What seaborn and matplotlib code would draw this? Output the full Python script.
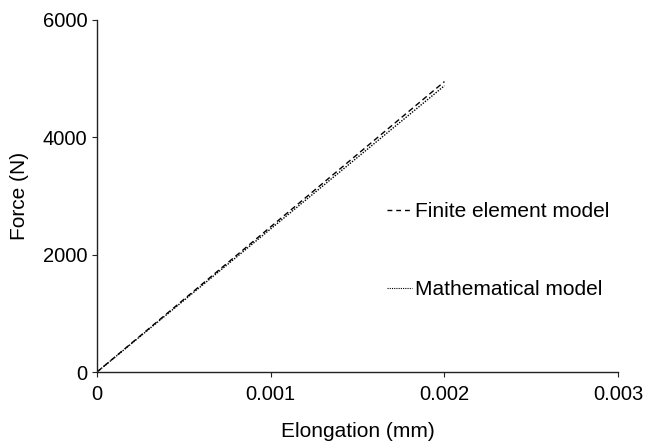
import matplotlib
matplotlib.use("Agg")
import matplotlib.pyplot as plt
import seaborn as sns
import pandas as pd

elong = [0.0, 0.002]
force_fe = [0.0, 4950.0]
force_math = [0.0, 4880.0]

sns.set_style("ticks")
plt.rcParams['font.family'] = ['Liberation Sans', 'DejaVu Sans']
plt.rcParams['text.color'] = 'black'
plt.rcParams['axes.labelcolor'] = 'black'
plt.rcParams['xtick.labelcolor'] = 'black'
plt.rcParams['ytick.labelcolor'] = 'black'

fig = plt.figure(figsize=(6.46, 4.44), dpi=100)
ax = fig.add_axes([0.150, 0.162, 0.807, 0.793])

df = pd.DataFrame({
    "Elongation": elong + elong,
    "Force": force_fe + force_math,
    "model": ["Finite element model"] * 2 + ["Mathematical model"] * 2,
})
sns.lineplot(data=df, x="Elongation", y="Force", style="model",
             dashes={"Finite element model": (4, 2.5), "Mathematical model": (1, 1)},
             color="black", linewidth=1.0, ax=ax, legend=False)

from matplotlib.lines import Line2D
handles = [Line2D([], [], color="black", lw=1.0, ls=(0, (3.5, 2.8))),
           Line2D([], [], color="black", lw=0.8, ls=(0, (1, 1)))]
ax.legend(handles, ["Finite element model", "Mathematical model"],
          loc="upper left", bbox_to_anchor=(0.52, 0.536), frameon=False,
          handlelength=1.2, handletextpad=0.15, labelspacing=2.85, fontsize=15)

ax.set_xlim(0, 0.003)
ax.set_ylim(0, 6000)
ax.set_xticks([0, 0.001, 0.002, 0.003])
ax.set_xticklabels(["0", "0.001", "0.002", "0.003"])
ax.set_yticks([0, 2000, 4000, 6000])
ax.set_yticklabels(["0", "2000", "4000", "6000"])
ax.set_xlabel("Elongation (mm)", fontsize=15, labelpad=13, color="black")
ax.set_ylabel("Force (N)", fontsize=15, labelpad=9.5, color="black")
ax.tick_params(labelsize=14.5, direction="out", length=3.5, color="#222222", labelcolor="black")
ax.tick_params(axis="x", pad=6)
for s in ["top", "right"]:
    ax.spines[s].set_visible(False)
for s in ["left", "bottom"]:
    ax.spines[s].set_color("#222222")
    ax.spines[s].set_linewidth(1.0)

fig.savefig("out.png", dpi=100)
